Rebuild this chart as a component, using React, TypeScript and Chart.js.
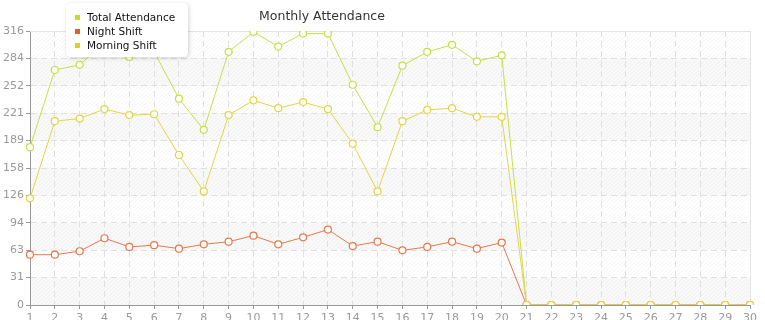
import React, { useEffect, useRef } from "react";
import { Chart, registerables } from "chart.js";

Chart.register(...registerables);

const dayLabels = [
  "1", "2", "3", "4", "5", "6", "7", "8", "9", "10",
  "11", "12", "13", "14", "15", "16", "17", "18", "19", "20",
  "21", "22", "23", "24", "25", "26", "27", "28", "29", "30",
];

const totalAttendance = [
  182, 271, 277, 302, 286, 292, 238, 202, 292, 315,
  298, 313, 313, 254, 205, 276, 292, 300, 281, 288,
  0, 0, 0, 0, 0, 0, 0, 0, 0, 0,
];

const nightShift = [
  58, 58, 62, 77, 67, 69, 65, 70, 73, 80,
  70, 78, 87, 68, 73, 63, 67, 73, 65, 72,
  0, 0, 0, 0, 0, 0, 0, 0, 0, 0,
];

const morningShift = [
  123, 212, 215, 226, 219, 220, 173, 131, 219, 236,
  227, 234, 226, 186, 131, 212, 225, 227, 217, 217,
  0, 0, 0, 0, 0, 0, 0, 0, 0, 0,
];

const yTickValues = [0, 31.6, 63.2, 94.8, 126.4, 158, 189.6, 221.2, 252.8, 284.4, 316];
const yTickLabels = ["0", "31", "63", "94", "126", "158", "189", "221", "252", "284", "316"];

const seriesNames = ["Total Attendance", "Night Shift", "Morning Shift"];
const lineColors = ["#c8de48", "#e8774b", "#e2d646"];
const legendColors = ["#c3dc2c", "#e0602a", "#e0cf2a"];
const titleText = "Monthly Attendance";

const FONT = "'DejaVu Sans', Verdana, sans-serif";

const backgroundPlugin = {
  id: "bgPlugin",
  beforeDraw(chart: any) {
    const { ctx, chartArea } = chart;
    const y = chart.scales.y;
    const { left, right, top, bottom } = chartArea;
    ctx.save();
    ctx.fillStyle = "#ffffff";
    ctx.fillRect(left, top, right - left, bottom - top);
    for (let i = 0; i < yTickValues.length - 1; i++) {
      if (i % 2 === 0) {
        const y0 = y.getPixelForValue(yTickValues[i]);
        const y1 = y.getPixelForValue(yTickValues[i + 1]);
        ctx.fillStyle = "#f9f9f9";
        ctx.fillRect(left, y1, right - left, y0 - y1);
      }
    }
    ctx.beginPath();
    ctx.rect(left, top, right - left, bottom - top);
    ctx.clip();
    ctx.strokeStyle = "rgba(0,0,0,0.03)";
    ctx.lineWidth = 1;
    const h = bottom - top;
    for (let x = left - h; x < right + h; x += 4) {
      ctx.beginPath();
      ctx.moveTo(x, bottom);
      ctx.lineTo(x + h, top);
      ctx.stroke();
    }
    ctx.restore();
  },
  beforeDatasetsDraw(chart: any) {
    const { ctx, chartArea } = chart;
    const { left, right, top, bottom } = chartArea;
    ctx.save();
    ctx.strokeStyle = "#e4e4e4";
    ctx.lineWidth = 1;
    ctx.beginPath();
    ctx.moveTo(left, Math.round(top) + 0.5);
    ctx.lineTo(Math.round(right) + 0.5, Math.round(top) + 0.5);
    ctx.lineTo(Math.round(right) + 0.5, bottom);
    ctx.stroke();
    ctx.restore();
  },
  afterDraw(chart: any) {
    const { ctx } = chart;
    ctx.save();
    ctx.font = `12.5px ${FONT}`;
    ctx.fillStyle = "#333333";
    ctx.textAlign = "center";
    ctx.textBaseline = "middle";
    ctx.fillText(titleText, 322, 17);

    const bx = 66, by = 3, bw = 122, bh = 54, r = 5;
    ctx.shadowColor = "rgba(0,0,0,0.18)";
    ctx.shadowBlur = 4;
    ctx.shadowOffsetX = 1;
    ctx.shadowOffsetY = 1;
    ctx.fillStyle = "#ffffff";
    ctx.beginPath();
    ctx.moveTo(bx + r, by);
    ctx.lineTo(bx + bw - r, by);
    ctx.quadraticCurveTo(bx + bw, by, bx + bw, by + r);
    ctx.lineTo(bx + bw, by + bh - r);
    ctx.quadraticCurveTo(bx + bw, by + bh, bx + bw - r, by + bh);
    ctx.lineTo(bx + r, by + bh);
    ctx.quadraticCurveTo(bx, by + bh, bx, by + bh - r);
    ctx.lineTo(bx, by + r);
    ctx.quadraticCurveTo(bx, by, bx + r, by);
    ctx.closePath();
    ctx.fill();
    ctx.shadowColor = "transparent";
    ctx.shadowBlur = 0;
    ctx.shadowOffsetX = 0;
    ctx.shadowOffsetY = 0;

    ctx.font = `10.5px ${FONT}`;
    ctx.textAlign = "left";
    ctx.textBaseline = "middle";
    for (let i = 0; i < seriesNames.length; i++) {
      const cy = 18 + i * 14;
      ctx.fillStyle = legendColors[i];
      ctx.fillRect(75, cy - 3, 5, 5);
      ctx.fillStyle = "#111111";
      ctx.fillText(seriesNames[i], 87, cy);
    }
    ctx.restore();
  },
};

function makeDataset(i: number, data: number[], order: number) {
  return {
    label: seriesNames[i],
    data,
    borderColor: lineColors[i],
    backgroundColor: "#ffffff",
    borderWidth: 1,
    pointRadius: 3.5,
    pointBorderWidth: 1.2,
    pointBackgroundColor: "#ffffff",
    pointBorderColor: lineColors[i],
    tension: 0,
    fill: false,
    order,
  };
}

export default function App() {
  const canvasRef = useRef<HTMLCanvasElement | null>(null);

  useEffect(() => {
    const canvas = canvasRef.current;
    if (!canvas) return;
    const chart = new Chart(canvas, {
      type: "line",
      data: {
        labels: dayLabels,
        datasets: [
          makeDataset(0, totalAttendance, 2),
          makeDataset(1, nightShift, 1),
          makeDataset(2, morningShift, 0),
        ],
      },
      options: {
        responsive: false,
        animation: false,
        devicePixelRatio: 1,
        layout: { padding: { top: 31, left: 0, right: 15, bottom: 0 } },
        plugins: {
          legend: { display: false },
          title: { display: false },
          tooltip: { enabled: false },
        },
        scales: {
          x: {
            type: "category",
            offset: false,
            afterFit(scale: any) {
              scale.height = 15;
            },
            grid: {
              color: "#e0e0e0",
              lineWidth: 1,
              tickColor: "#999999",
              tickLength: 4,
              drawTicks: true,
            },
            border: { color: "#999999", width: 1, dash: [6, 4] },
            ticks: {
              color: "#999999",
              font: { family: FONT, size: 11 },
              padding: 3,
              maxRotation: 0,
              autoSkip: false,
            },
          },
          y: {
            min: 0,
            max: 316,
            afterFit(scale: any) {
              scale.width = 30;
            },
            afterBuildTicks(scale: any) {
              scale.ticks = yTickValues.map((v) => ({ value: v }));
            },
            grid: {
              color: "#e0e0e0",
              lineWidth: 1,
              tickColor: "#999999",
              tickLength: 4,
              drawTicks: true,
            },
            border: { color: "#999999", width: 1, dash: [6, 4] },
            ticks: {
              color: "#999999",
              font: { family: FONT, size: 11 },
              padding: 2,
              callback: (_v: any, idx: number) => yTickLabels[idx],
            },
          },
        },
      },
      plugins: [backgroundPlugin],
    } as any);
    return () => chart.destroy();
  }, []);

  return (
    <div style={{ position: "absolute", left: 0, top: 0, width: 765, height: 320 }}>
      <canvas ref={canvasRef} width={765} height={320} style={{ display: "block" }} />
    </div>
  );
}
